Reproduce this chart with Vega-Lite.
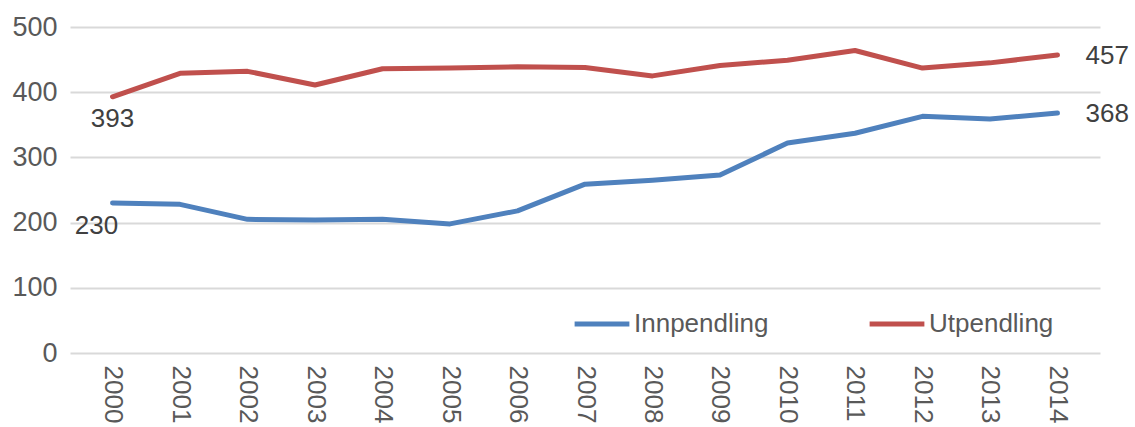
{
  "$schema": "https://vega.github.io/schema/vega-lite/v6.json",
  "width": 1030,
  "height": 326,
  "autosize": "none",
  "padding": {"left": 70, "top": 27, "right": 35, "bottom": 74},
  "background": "white",
  "config": {
    "font": "Liberation Sans",
    "view": {"stroke": null}
  },
  "data": {
    "values": [
      {"year": "2000", "serie": "Innpendling", "value": 230},
      {"year": "2001", "serie": "Innpendling", "value": 228},
      {"year": "2002", "serie": "Innpendling", "value": 205},
      {"year": "2003", "serie": "Innpendling", "value": 204},
      {"year": "2004", "serie": "Innpendling", "value": 205},
      {"year": "2005", "serie": "Innpendling", "value": 198},
      {"year": "2006", "serie": "Innpendling", "value": 218},
      {"year": "2007", "serie": "Innpendling", "value": 259},
      {"year": "2008", "serie": "Innpendling", "value": 265},
      {"year": "2009", "serie": "Innpendling", "value": 273},
      {"year": "2010", "serie": "Innpendling", "value": 322},
      {"year": "2011", "serie": "Innpendling", "value": 337},
      {"year": "2012", "serie": "Innpendling", "value": 363},
      {"year": "2013", "serie": "Innpendling", "value": 359},
      {"year": "2014", "serie": "Innpendling", "value": 368},
      {"year": "2000", "serie": "Utpendling", "value": 393},
      {"year": "2001", "serie": "Utpendling", "value": 429},
      {"year": "2002", "serie": "Utpendling", "value": 432},
      {"year": "2003", "serie": "Utpendling", "value": 411},
      {"year": "2004", "serie": "Utpendling", "value": 436},
      {"year": "2005", "serie": "Utpendling", "value": 437},
      {"year": "2006", "serie": "Utpendling", "value": 439},
      {"year": "2007", "serie": "Utpendling", "value": 438},
      {"year": "2008", "serie": "Utpendling", "value": 425},
      {"year": "2009", "serie": "Utpendling", "value": 441},
      {"year": "2010", "serie": "Utpendling", "value": 449},
      {"year": "2011", "serie": "Utpendling", "value": 464},
      {"year": "2012", "serie": "Utpendling", "value": 437},
      {"year": "2013", "serie": "Utpendling", "value": 445},
      {"year": "2014", "serie": "Utpendling", "value": 457}
    ]
  },
  "encoding": {
    "x": {
      "field": "year",
      "type": "ordinal",
      "scale": {"type": "point", "padding": 0.63},
      "axis": {
        "title": null,
        "labelAngle": 90,
        "labelAlign": "left",
        "labelBaseline": "middle",
        "labelFontSize": 26,
        "labelColor": "#595959",
        "labelPadding": 12,
        "domain": false,
        "ticks": false,
        "grid": false
      }
    },
    "y": {
      "field": "value",
      "type": "quantitative",
      "scale": {"domain": [0, 500], "nice": false},
      "axis": {
        "title": null,
        "values": [0, 100, 200, 300, 400, 500],
        "labelFontSize": 27,
        "labelColor": "#595959",
        "labelPadding": 13,
        "domain": false,
        "ticks": false,
        "grid": true,
        "gridColor": "#d9d9d9",
        "gridWidth": 2
      }
    }
  },
  "layer": [
    {
      "mark": {"type": "line", "strokeWidth": 5, "strokeCap": "round", "strokeJoin": "round"},
      "encoding": {
        "color": {
          "field": "serie",
          "type": "nominal",
          "scale": {"domain": ["Innpendling", "Utpendling"], "range": ["#4f81bd", "#c0504d"]},
          "legend": {
            "title": null,
            "orient": "none",
            "direction": "horizontal",
            "legendX": 502,
            "legendY": 267,
            "symbolType": "stroke",
            "symbolSize": 3000,
            "symbolStrokeWidth": 5,
            "labelFontSize": 26,
            "labelColor": "#595959",
            "labelOffset": 2,
            "columnPadding": 90
          }
        }
      }
    },
    {
      "transform": [{"filter": "datum.serie === 'Utpendling' && datum.year === '2000'"}],
      "mark": {"type": "text", "fontSize": 26, "color": "#404040", "dy": 22, "align": "center", "baseline": "middle"},
      "encoding": {"text": {"field": "value", "type": "quantitative"}}
    },
    {
      "transform": [{"filter": "datum.serie === 'Innpendling' && datum.year === '2000'"}],
      "mark": {"type": "text", "fontSize": 26, "color": "#404040", "dx": -16, "dy": 23, "align": "center", "baseline": "middle"},
      "encoding": {"text": {"field": "value", "type": "quantitative"}}
    },
    {
      "transform": [{"filter": "datum.year === '2014'"}],
      "mark": {"type": "text", "fontSize": 26, "color": "#404040", "dx": 28, "dy": 1, "align": "left", "baseline": "middle"},
      "encoding": {"text": {"field": "value", "type": "quantitative"}}
    }
  ]
}
